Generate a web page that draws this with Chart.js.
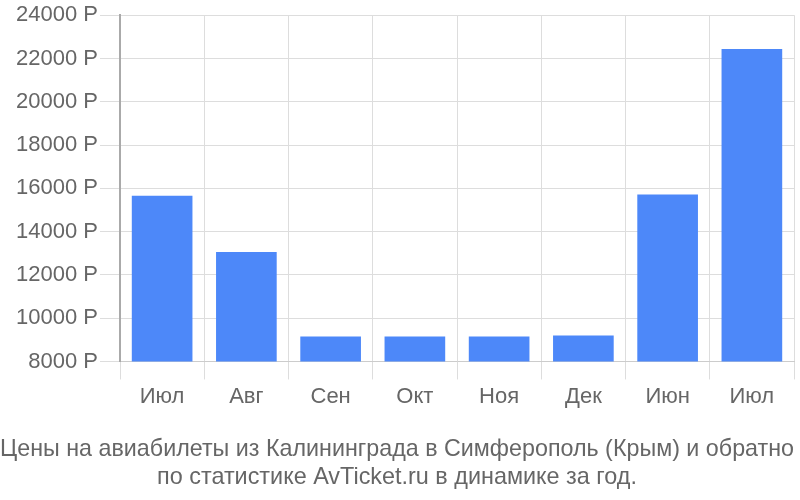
<!DOCTYPE html>
<html><head><meta charset="utf-8">
<script src="https://cdn.jsdelivr.net/npm/chart.js@4"></script>
<style>html,body{margin:0;padding:0;background:#fff}#wrap{width:800px;height:500px}</style>
</head><body><div id="wrap"><canvas id="c" width="800" height="500"></canvas></div>
<script>
const categories = ["Июл","Авг","Сен","Окт","Ноя","Дек","Июн","Июл"];
const prices = [15660, 13060, 9150, 9150, 9150, 9195, 15720, 22440];
const titleLines = ["Цены на авиабилеты из Калининграда в Симферополь (Крым) и обратно","по статистике AvTicket.ru в динамике за год."];
const currency = " Р";

Chart.defaults.font.family = "'Liberation Sans', Arial, sans-serif";
Chart.defaults.color = "#666";
new Chart(document.getElementById('c'), {
  type: 'bar',
  data: { labels: categories, datasets: [{ data: prices, backgroundColor: '#4d88f9', barPercentage: 0.72, categoryPercentage: 1.0 }] },
  options: {
    responsive: false, animation: false,
    layout: { padding: { left: 0, right: 6, top: 4, bottom: 8 } },
    plugins: {
      legend: { display: false }, tooltip: { enabled: false },
      title: { display: true, position: 'bottom', text: titleLines, font: { size: 23.4, weight: 'normal' }, color: '#666', padding: { top: 22, bottom: 0 }, lineHeight: 1.16 }
    },
    scales: {
      x: {
        grid: { color: '#ddd', tickLength: 18, offset: true },
        border: { color: '#ccc' },
        ticks: { font: { size: 22 }, color: '#666', padding: 4 }
      },
      y: {
        min: 8000, max: 24000,
        grid: { color: '#ddd', tickLength: 20 },
        border: { color: '#aaa', width: 2 },
        ticks: { stepSize: 2000, font: { size: 22 }, color: '#666', padding: 2, callback: v => v + currency },
        afterFit: s => { s.width = 120; }
      }
    }
  }
});
</script></body></html>
